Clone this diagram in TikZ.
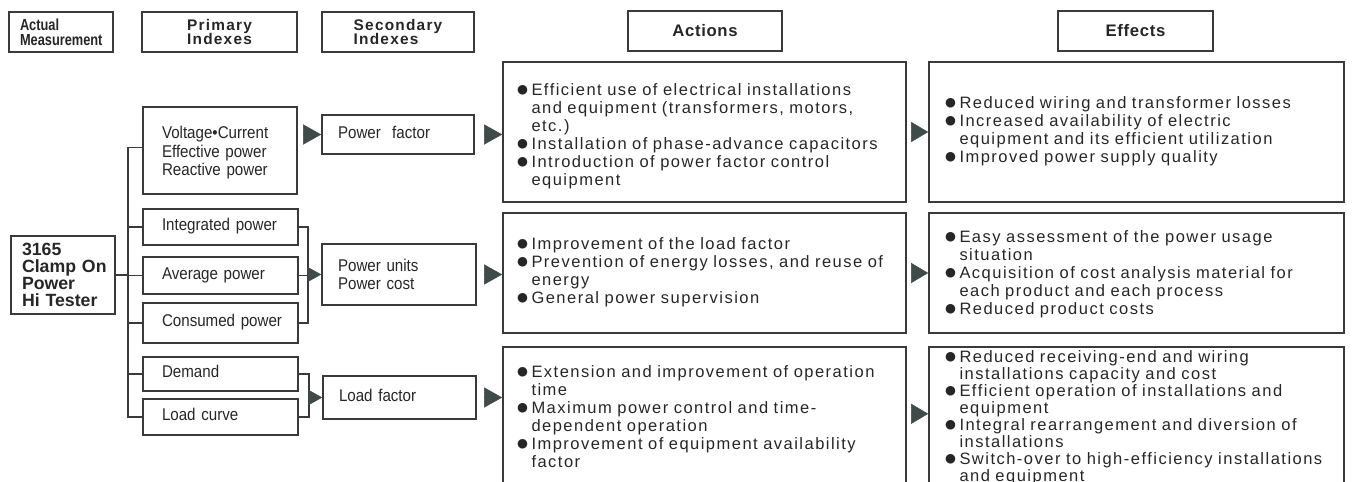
\documentclass[tikz,border=0pt]{standalone}
\usepackage{fontspec}
\setmainfont{Liberation Sans}
\newfontfamily\bodyfont[LetterSpace=9]{Liberation Sans}
\newfontfamily\hdfont[LetterSpace=8]{Liberation Sans}
\newfontfamily\titlefont[LetterSpace=4]{Liberation Sans}
\newfontfamily\condfont[FakeStretch=0.89]{Liberation Sans}
\newfontfamily\condbold[FakeStretch=0.8]{Liberation Sans}
\newfontfamily\symfont{DejaVu Sans}
\usetikzlibrary{arrows.meta, positioning}

\definecolor{inkgray}{HTML}{262626}
\definecolor{linegray}{HTML}{3A3A3A}
\definecolor{trigray}{HTML}{3F4B48}

\setlength{\lineskiplimit}{-20pt}
\newcommand{\bul}{\makebox[14.5pt][l]{\raisebox{2.5pt}{\symfont\fontsize{12.5}{12.5}\selectfont ●}}}
\newcommand{\lines}[2][0pt]{\begin{tabular}{@{}l@{}}\noalign{\vskip#1}#2\end{tabular}}
\newcommand{\blist}[2][0pt]{\begin{tabular}{@{}l@{}l@{}}\noalign{\vskip#1}#2\end{tabular}}

\begin{document}
\begin{tikzpicture}[x=1pt, y=-1pt,
		box/.style={draw=linegray, line width=1.6pt, text=inkgray, inner sep=0pt},
		headbox/.style={box, align=left, minimum height=40pt,
				font=\hdfont\bfseries\fontsize{15.4}{13.3}\selectfont},
		titlebox/.style={box, minimum height=40pt, minimum width=155pt,
				font=\titlefont\bfseries\fontsize{16.7}{18}\selectfont},
		ixbox/.style={box, align=left, font=\condfont\fontsize{17}{18.3}\selectfont},
		listbox/.style={box, align=left, font=\bodyfont\fontsize{16.5}{18}\selectfont},
		conn/.style={draw=linegray, line width=1.6pt},
		tri/.style={draw=trigray, line width=0.5pt, -{Triangle[length=18pt, width=20pt, fill=trigray]}},
		etri/.style={draw=trigray, line width=0.5pt, -{Triangle[length=17pt, width=20pt, fill=trigray]}},
		smalltri/.style={draw=trigray, line width=0.5pt, -{Triangle[length=13.5pt, width=15pt, fill=trigray]}}
	]
	\useasboundingbox (0,0) rectangle (1353,482);

	% column headers
	\node[headbox, text width=82pt, inner xsep=11pt,
		font=\condbold\bfseries\fontsize{16}{15}\selectfont] (hmeas) at (61,32) {Actual\\\mbox{Measurement}};
	\node[headbox, minimum width=155pt] (hprim) at (219.5,32) {Primary\\Indexes};
	\node[headbox, minimum width=152pt] (hsec) at (398,32) {Secondary\\Indexes};
	\node[titlebox, minimum width=154pt] (hact) at (705,31) {Actions};
	\node[titlebox] (heff) at (1135.5,31) {Effects};

	% measuring instrument
	\node[box, align=left, text width=82pt, inner xsep=11pt, minimum height=78pt,
		font=\bfseries\fontsize{17.7}{17}\selectfont] (tester) at (63,275)
		{3165\\\mbox{Clamp On}\\Power\\Hi Tester};

	% primary indexes
	\node[ixbox, text width=116pt, inner xsep=19pt, minimum height=87pt] (vc) at (220,150.5)
		{\lines[6pt]{Voltage•Current\\Effective power\\Reactive power}};
	\node[ixbox, text width=117pt, inner xsep=19pt, minimum height=36pt] (ip) at (220.5,227) {\lines{Integrated power}};
	\node[ixbox, text width=117pt, inner xsep=19pt, minimum height=37pt] (ap) at (220.5,275.5) {\lines{Average power}};
	\node[ixbox, text width=117pt, inner xsep=19pt, minimum height=40pt] (cp) at (220.5,323) {\lines{Consumed power}};
	\node[ixbox, text width=117pt, inner xsep=19pt, minimum height=34pt] (dm) at (220.5,374) {\lines{Demand}};
	\node[ixbox, text width=117pt, inner xsep=19pt, minimum height=36pt] (lc) at (220.5,417) {\lines{Load curve}};

	% secondary indexes
	\node[ixbox, text width=120pt, inner xsep=16pt, minimum height=39pt] (pf) at (398,134.5) {\lines{Power\ \ factor}};
	\node[ixbox, text width=122pt, inner xsep=16pt, minimum height=61pt] (pu) at (399,274.5) {\lines[5pt]{Power units\\Power cost}};
	\node[ixbox, text width=121pt, inner xsep=16pt, minimum height=43pt] (lf) at (399.5,397.5) {\lines{Load factor}};

	% actions
	\node[listbox, text width=375pt, inner xsep=14pt, minimum height=140pt] (a1) at (704.5,132) {\blist[10pt]{
		\bul & Efficient use of electrical installations\\
		     & and equipment (transformers, motors,\\
		     & etc.)\\
		\bul & Installation of phase-advance capacitors\\
		\bul & Introduction of power factor control\\
		     & equipment}};
	\node[listbox, text width=375pt, inner xsep=14pt, minimum height=120pt] (a2) at (704.5,273) {\blist{
		\bul & Improvement of the load factor\\
		\bul & Prevention of energy losses, and reuse of\\
		     & energy\\
		\bul & General power supervision}};
	\node[listbox, text width=375pt, inner xsep=14pt, minimum height=142pt, anchor=north] (a3) at (704.5,346) {\blist[3pt]{
		\bul & Extension and improvement of operation\\
		     & time\\
		\bul & Maximum power control and time-\\
		     & dependent operation\\
		\bul & Improvement of equipment availability\\
		     & factor}};

	% effects
	\node[listbox, text width=383pt, inner xsep=16pt, minimum height=140pt] (e1) at (1136.5,132) {\blist{
		\bul & Reduced wiring and transformer losses\\
		\bul & Increased availability of electric\\
		     & equipment and its efficient utilization\\
		\bul & Improved power supply quality}};
	\node[listbox, text width=383pt, inner xsep=16pt, minimum height=120pt] (e2) at (1136.5,273) {\blist[4pt]{
		\bul & Easy assessment of the power usage\\
		     & situation\\
		\bul & Acquisition of cost analysis material for\\
		     & each product and each process\\
		\bul & Reduced product costs}};
	\node[listbox, text width=383pt, inner xsep=16pt, minimum height=150pt, anchor=north,
		font=\bodyfont\fontsize{16.5}{16.8}\selectfont] (e3) at (1136.5,346) {\blist[-6pt]{
		\bul & Reduced receiving-end and wiring\\
		     & installations capacity and cost\\
		\bul & Efficient operation of installations and\\
		     & equipment\\
		\bul & Integral rearrangement and diversion of\\
		     & installations\\
		\bul & Switch-over to high-efficiency installations\\
		     & and equipment}};

	% trunk from the tester to the primary indexes
	\coordinate (tr) at (128,0);
	\draw[conn] ([yshift=3pt]vc.west) -- ([yshift=3pt]vc.west -| tr) -- (lc.west -| tr) -- (lc.west);
	\foreach \n in {ip,ap,cp,dm}
		\draw[conn] (\n.west) -- (\n.west -| tr);
	\draw[conn] (tester.east) -- (tester.east -| tr);

	% brackets into the secondary indexes
	\coordinate (bu) at (308,0);
	\coordinate (bl) at (309,0);
	\draw[conn] (ip.east) -- (ip.east -| bu) -- (cp.east -| bu) -- (cp.east);
	\draw[conn] (ap.east) -- (ap.east -| bu);
	\draw[smalltri] (pu.west -| bu) -- (pu.west);
	\draw[conn] (dm.east) -- (dm.east -| bl) -- (lc.east -| bl) -- (lc.east);
	\draw[smalltri] (lf.west -| bl) -- (lf.west);
	\draw[tri, shorten <=7pt] (vc.east |- pf.west) -- (pf.west);

	% secondary indexes to actions to effects
	\draw[tri, shorten <=10pt] (pf.east) -- (pf.east -| a1.west);
	\draw[tri, shorten <=9pt] (pu.east) -- (pu.east -| a2.west);
	\draw[tri, shorten <=9pt] (lf.east) -- (lf.east -| a3.west);
	\draw[etri, shorten <=6pt] (a1.east) -- (e1.west);
	\draw[etri, shorten <=6pt] (a2.east) -- (e2.west);
	\draw[etri, shorten <=6pt] ([yshift=4pt]a3.east) -- ([yshift=4pt]a3.east -| e3.west);
\end{tikzpicture}
\end{document}
